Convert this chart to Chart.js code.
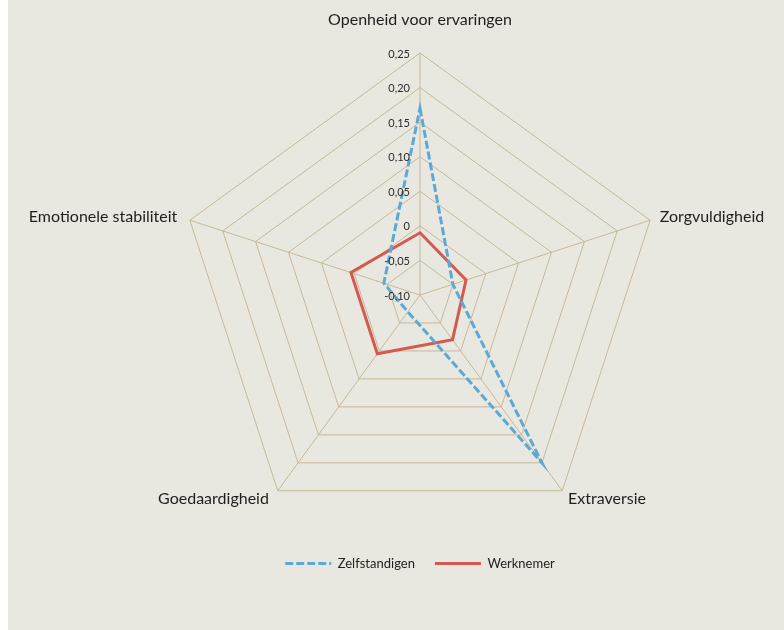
<!DOCTYPE html>
<html>
<head>
<meta charset="utf-8">
<script src="https://cdn.jsdelivr.net/npm/chart.js@4/dist/chart.umd.min.js"></script>
<style>
  html, body { margin: 0; padding: 0; background: #ffffff; }
  #wrap { position: absolute; left: 8px; top: 0; width: 776px; height: 630px; background: #e8e7e0; }
  canvas { display: block; }
</style>
</head>
<body>
<div id="wrap"><canvas id="c" width="776" height="630"></canvas></div>
<script>
const categories = ['Openheid voor ervaringen', 'Zorgvuldigheid', 'Extraversie', 'Goedaardigheid', 'Emotionele stabiliteit'];
const seriesNames = ['Zelfstandigen', 'Werknemer'];
const zelfstandigen = [0.17, -0.05, 0.20, -0.07, -0.045];
const werknemer = [-0.01, -0.03, -0.02, 0.005, 0.005];
const tickValues = [-0.10, -0.05, 0, 0.05, 0.10, 0.15, 0.20, 0.25];
const tickLabels = ['-0,10', '-0,05', '0', '0,05', '0,10', '0,15', '0,20', '0,25'];

const FONT = 'Lato, "Open Sans", sans-serif';

const customLabels = {
  id: 'customLabels',
  afterDraw(chart) {
    const s = chart.scales.r;
    const ctx = chart.ctx;
    ctx.save();
    // tick labels, right-aligned just left of the vertical axis
    ctx.font = '11px ' + FONT;
    ctx.fillStyle = '#2b2b2b';
    ctx.textAlign = 'right';
    ctx.textBaseline = 'middle';
    tickValues.forEach((v, i) => {
      const d = s.getDistanceFromCenterForValue(v);
      ctx.fillText(tickLabels[i], s.xCenter - 10, s.yCenter - d + 1);
    });
    // point labels
    ctx.font = '16px ' + FONT;
    ctx.fillStyle = '#1e1e1e';
    categories.forEach((lab, i) => {
      const p = s.getPointPosition(i, s.drawingArea + 10);
      let align;
      if (Math.abs(p.x - s.xCenter) < 1) align = 'center';
      else align = p.x > s.xCenter ? 'left' : 'right';
      let y = p.y;
      let x = p.x;
      if (align === 'center' && p.y < s.yCenter) y -= 23;
      if (align === 'right') x -= 3;
      ctx.textAlign = align;
      ctx.textBaseline = 'middle';
      ctx.fillText(lab, x, y);
    });
    ctx.restore();
  }
};

new Chart(document.getElementById('c'), {
  type: 'radar',
  data: {
    labels: categories,
    datasets: [
      {
        label: seriesNames[0],
        data: zelfstandigen,
        borderColor: '#5ca9d6',
        backgroundColor: 'transparent',
        borderWidth: 3,
        borderDash: [8, 3],
        fill: false,
        pointRadius: 0,
        pointHoverRadius: 0,
        tension: 0
      },
      {
        label: seriesNames[1],
        data: werknemer,
        borderColor: '#d25a50',
        backgroundColor: 'transparent',
        borderWidth: 3,
        fill: false,
        pointRadius: 0,
        pointHoverRadius: 0,
        tension: 0
      }
    ]
  },
  options: {
    responsive: false,
    animation: false,
    devicePixelRatio: 1,
    layout: { padding: { left: 170, right: 122, top: 53, bottom: 50 } },
    plugins: {
      legend: {
        position: 'bottom',
        labels: {
          usePointStyle: true,
          pointStyle: 'line',
          pointStyleWidth: 46,
          padding: 20,
          color: '#222',
          font: { family: FONT, size: 13 },
          generateLabels(chart) {
            const items = Chart.defaults.plugins.legend.labels.generateLabels(chart);
            items.forEach((it) => {
              const ds = chart.data.datasets[it.datasetIndex];
              it.lineDash = ds.borderDash || [];
              it.lineWidth = 3;
              it.strokeStyle = ds.borderColor;
              it.pointStyle = 'line';
            });
            return items;
          }
        }
      },
      tooltip: { enabled: false }
    },
    scales: {
      r: {
        min: -0.10,
        max: 0.25,
        beginAtZero: false,
        ticks: { display: false, stepSize: 0.05 },
        grid: { color: '#c8b898', lineWidth: 1, circular: false },
        angleLines: { color: '#c8b898', lineWidth: 1 },
        pointLabels: { display: false }
      }
    }
  },
  plugins: [customLabels]
});
</script>
</body>
</html>
